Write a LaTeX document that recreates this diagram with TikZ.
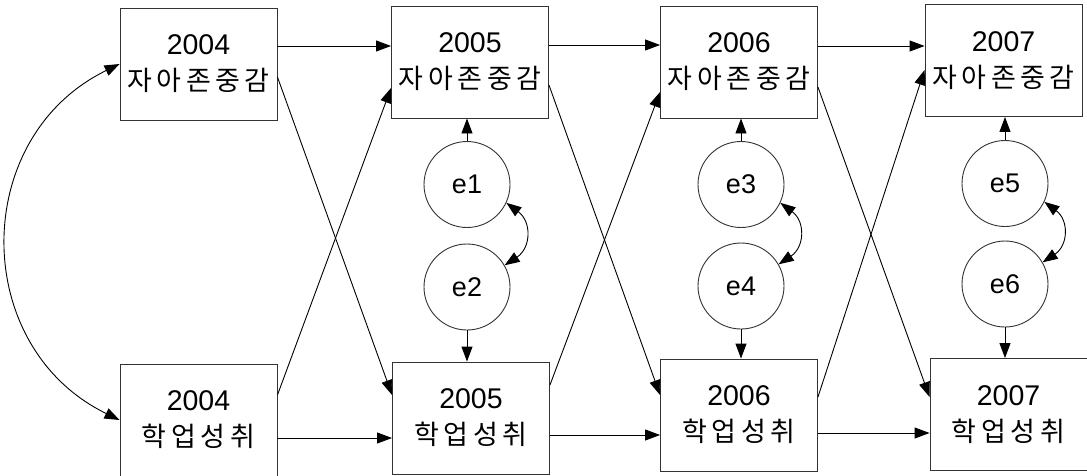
\documentclass[tikz,border=0pt]{standalone}
\usepackage{fontspec}
\setmainfont{Liberation Sans}
\newfontfamily\kr[LetterSpace=17]{Noto Sans CJK KR}
\usetikzlibrary{arrows.meta}
\newcommand\krt[1]{{\kr\fontsize{27}{36}\selectfont #1}}
\begin{document}
\begin{tikzpicture}[x=1pt,y=-1pt,
  box/.style={draw=black!80, line width=0.9pt, minimum width=157pt, minimum height=112pt, inner sep=0pt, align=center, font=\fontsize{28.5}{36}\selectfont},
  err/.style={circle, draw=black!80, line width=0.9pt, minimum size=86pt, inner sep=0pt, font=\fontsize{27}{30}\selectfont},
  arr/.style={-{Triangle[length=15pt,width=11pt]}, line width=0.9pt},
  biarr/.style={{Triangle[length=15pt,width=11pt]}-{Triangle[length=15pt,width=11pt]}, line width=0.9pt}]
\useasboundingbox (0,0) rectangle (1087,475);
\clip (0,0) rectangle (1087,475);
\node[box] (A4) at (198.5,64) {2004\\\krt{자아존중감}};
\node[box] (B4) at (198.5,420) {2004\\\krt{학업성취}};
\node[box] (A5) at (470,62) {2005\\\krt{자아존중감}};
\node[box] (B5) at (471,418) {2005\\\krt{학업성취}};
\node[box] (A6) at (739,62) {2006\\\krt{자아존중감}};
\node[box] (B6) at (739,415) {2006\\\krt{학업성취}};
\node[box] (A7) at (1003.5,60.5) {2007\\\krt{자아존중감}};
\node[box] (B7) at (1008.5,414.5) {2007\\\krt{학업성취}};
\node[err] (e1) at (467,184.5) {e1};
\node[err] (e2) at (467,287) {e2};
\node[err] (e3) at (741,184.5) {e3};
\node[err] (e4) at (741,286) {e4};
\node[err] (e5) at (1005,183.5) {e5};
\node[err] (e6) at (1005,284) {e6};
% horizontal paths
\draw[arr] ([yshift=18pt]A4.east) -- ([yshift=18pt]A4.east -| A5.west);
\draw[arr] ([yshift=17pt]A5.east) -- ([yshift=17pt]A5.east -| A6.west);
\draw[arr] ([yshift=16pt]A6.east) -- ([yshift=16pt]A6.east -| A7.west);
\draw[arr] ([yshift=-18pt]B4.east) -- ([yshift=-18pt]B4.east -| B5.west);
\draw[arr] ([yshift=-17pt]B5.east) -- ([yshift=-17pt]B5.east -| B6.west);
\draw[arr] ([yshift=-18pt]B6.east) -- ([yshift=-18pt]B6.east -| B7.west);
% cross-lagged paths
\draw[arr] ([yshift=-13pt]A4.east) -- ([yshift=23pt]B5.west);
\draw[arr] ([yshift=25pt]B4.east) -- ([yshift=-26pt]A5.west);
\draw[arr] ([yshift=-23pt]A5.east) -- ([yshift=20pt]B6.west);
\draw[arr] ([yshift=33pt]B5.east) -- ([yshift=-30pt]A6.west);
\draw[arr] ([yshift=-25pt]A6.east) -- ([yshift=17.5pt]B7.west);
\draw[arr] ([yshift=18pt]B6.east) -- ([yshift=-9.5pt]A7.west);
% error paths
\draw[arr] (e1.north) -- (e1.north |- A5.south);
\draw[arr] (e2.south) -- (e2.south |- B5.north);
\draw[arr] (e3.north) -- (e3.north |- A6.south);
\draw[arr] (e4.south) -- (e4.south |- B6.north);
\draw[arr] (e5.north) -- (e5.north |- A7.south);
\draw[arr] (e6.south) -- (e6.south |- B7.north);
% covariances
\draw[biarr] (e1.-25) to[bend left=55, looseness=1.3] (e2.30);
\draw[biarr] (e3.-25) to[bend left=55, looseness=1.3] (e4.30);
\draw[biarr] (e5.-25) to[bend left=55, looseness=1.3] (e6.30);
\draw[biarr] (A4.west) to[bend right=64, looseness=1.2] (B4.west);
\end{tikzpicture}
\end{document}
